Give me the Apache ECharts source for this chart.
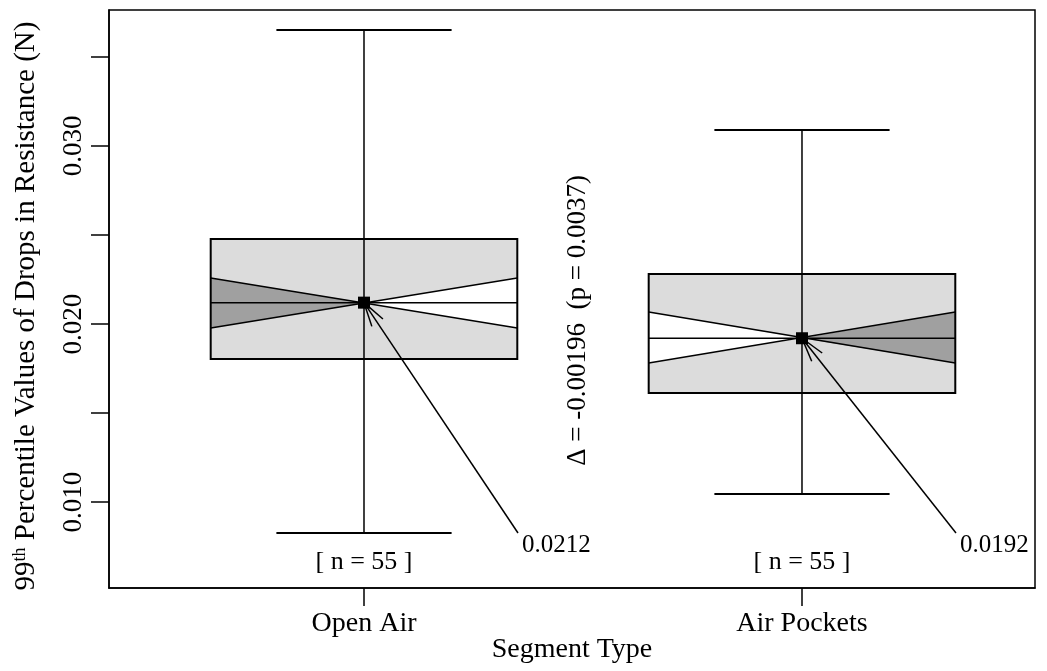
<!DOCTYPE html>
<html><head><meta charset="utf-8">
<script src="https://cdn.jsdelivr.net/npm/echarts@6/dist/echarts.min.js"></script>
<style>html,body{margin:0;padding:0;background:#fff}#c{width:1047px;height:671px}</style>
</head><body><div id="c"></div>
<script>
// ---- data ----
const categories = ['Open Air', 'Air Pockets'];
const whiskerLow = [0.00826, 0.01045];
const q1 = [0.01803, 0.01612];
const median = [0.0212, 0.0192];
const q3 = [0.02478, 0.02281];
const whiskerHigh = [0.03652, 0.0309];
const ciLow = [0.01978, 0.01781];
const ciHigh = [0.02258, 0.02067];
const nObs = [55, 55];
const medianLabels = ['0.0212', '0.0192'];
const darkSide = ['left', 'right'];
const yTickValues = [0.010, 0.015, 0.020, 0.025, 0.030, 0.035];
const yLabelValues = [0.010, 0.020, 0.030];
const xTickValues = [1, 2];
const deltaText = 'Δ = -0.00196  (p = 0.0037)';
const deltaY = 0.0202;

const FF = '"Liberation Serif", "Times New Roman", serif';

const chart = echarts.init(document.getElementById('c'), null, {renderer: 'canvas'});

function renderItem(params, api) {
  const i = params.dataIndex;
  const x = i + 1;
  const cs = params.coordSys;
  const c = (xv, yv) => api.coord([xv, yv]);
  const xl = c(x - 0.35, median[i])[0];
  const xr = c(x + 0.35, median[i])[0];
  const xc = c(x, median[i])[0];
  const capL = c(x - 0.2, median[i])[0];
  const capR = c(x + 0.2, median[i])[0];
  const Y = v => c(x, v)[1];
  const yMed = Y(median[i]), yQ1 = Y(q1[i]), yQ3 = Y(q3[i]);
  const yHi = Y(ciHigh[i]), yLo = Y(ciLow[i]);
  const yWL = Y(whiskerLow[i]), yWH = Y(whiskerHigh[i]);
  const ln = (x1, y1, x2, y2, w) => ({type: 'line', shape: {x1, y1, x2, y2}, style: {stroke: '#000', lineWidth: w || 1.5}});
  const ch = [];
  ch.push({type: 'rect', shape: {x: xl, y: yQ3, width: xr - xl, height: yQ1 - yQ3}, style: {fill: '#dcdcdc'}});
  const leftTri = [[xl, yHi], [xc, yMed], [xl, yLo]];
  const rightTri = [[xr, yHi], [xc, yMed], [xr, yLo]];
  ch.push({type: 'polygon', shape: {points: darkSide[i] === 'left' ? leftTri : rightTri}, style: {fill: '#a0a0a0'}});
  ch.push({type: 'polygon', shape: {points: darkSide[i] === 'left' ? rightTri : leftTri}, style: {fill: '#ffffff'}});
  ch.push(ln(xl, yHi, xr, yLo));
  ch.push(ln(xl, yLo, xr, yHi));
  ch.push(ln(xl, yMed, xr, yMed));
  ch.push(ln(xc, yWL, xc, yWH));
  ch.push(ln(capL, yWH, capR, yWH, 2));
  ch.push(ln(capL, yWL, capR, yWL, 2));
  ch.push({type: 'rect', shape: {x: xl, y: yQ3, width: xr - xl, height: yQ1 - yQ3}, style: {fill: null, stroke: '#000', lineWidth: 2}});
  ch.push({type: 'rect', shape: {x: xc - 6, y: yMed - 6, width: 12, height: 12}, style: {fill: '#000'}});
  // annotation arrow + label
  const bottom = cs.y + cs.height;
  const lx = xc + 158, ly = bottom - 43;
  const ex = lx - 4, ey = ly - 12;
  ch.push(ln(xc, yMed, ex, ey, 1.5));
  const ang = Math.atan2(ey - yMed, ex - xc);
  [-0.27, 0.27].forEach(d => {
    ch.push(ln(xc, yMed, xc + 25 * Math.cos(ang + d), yMed + 25 * Math.sin(ang + d), 1.5));
  });
  ch.push({type: 'text', style: {text: medianLabels[i], x: lx, y: ly, font: '25px ' + FF, fill: '#000', align: 'left', verticalAlign: 'middle'}});
  ch.push({type: 'text', style: {text: '[ n = ' + nObs[i] + ' ]', x: xc, y: bottom - 26, font: '26px ' + FF, fill: '#000', align: 'center', verticalAlign: 'middle'}});
  if (i === 0) {
    const p = c(1.5, deltaY);
    ch.push({type: 'text', x: p[0] - 5, y: p[1], rotation: Math.PI / 2,
      style: {text: deltaText, x: 0, y: 0, font: '27px ' + FF, fill: '#000', align: 'center', verticalAlign: 'middle'}});
  }
  return {type: 'group', children: ch};
}

const option = {
  animation: false,
  backgroundColor: '#fff',
  grid: {left: 109, right: 12, top: 10, bottom: 83, show: true, borderColor: '#000', borderWidth: 1.5,
    containLabel: false, outerBoundsMode: 'none'},
  xAxis: {
    type: 'value', min: 0.4178, max: 2.532,
    name: 'Segment Type', nameLocation: 'middle', nameGap: 48, nameMoveOverlap: false,
    nameTextStyle: {fontFamily: FF, fontSize: 28, color: '#000'},
    axisLine: {show: true, onZero: false, lineStyle: {color: '#000', width: 1.5}},
    axisTick: {show: true, customValues: xTickValues, length: 18, lineStyle: {color: '#000', width: 1.5}},
    axisLabel: {show: true, customValues: xTickValues, margin: 22, fontFamily: FF, fontSize: 28, color: '#000',
      formatter: v => categories[Math.round(v) - 1] || ''},
    splitLine: {show: false}
  },
  yAxis: {
    type: 'value', min: 0.005169, max: 0.03764,
    name: '{a|99}{s|th}{a| Percentile Values of Drops in Resistance (N)}',
    nameLocation: 'middle', nameGap: 68, nameRotate: 90, nameMoveOverlap: false,
    nameTextStyle: {color: '#000', padding: [0, 14, 0, 0], rich: {
      a: {fontFamily: FF, fontSize: 29, color: '#000', verticalAlign: 'bottom', lineHeight: 30},
      s: {fontFamily: FF, fontSize: 18, color: '#000', verticalAlign: 'top', lineHeight: 30}
    }},
    axisLine: {show: true, onZero: false, lineStyle: {color: '#000', width: 1.5}},
    axisTick: {show: true, customValues: yTickValues, length: 18, lineStyle: {color: '#000', width: 1.5}},
    axisLabel: {show: true, customValues: yLabelValues, rotate: 90, margin: 22, fontFamily: FF, fontSize: 27, color: '#000',
      formatter: v => v.toFixed(3)},
    splitLine: {show: false}
  },
  series: [{
    type: 'custom', clip: false,
    renderItem: renderItem,
    data: categories.map((c, i) => [i + 1, median[i]])
  }]
};
chart.setOption(option);
</script></body></html>
